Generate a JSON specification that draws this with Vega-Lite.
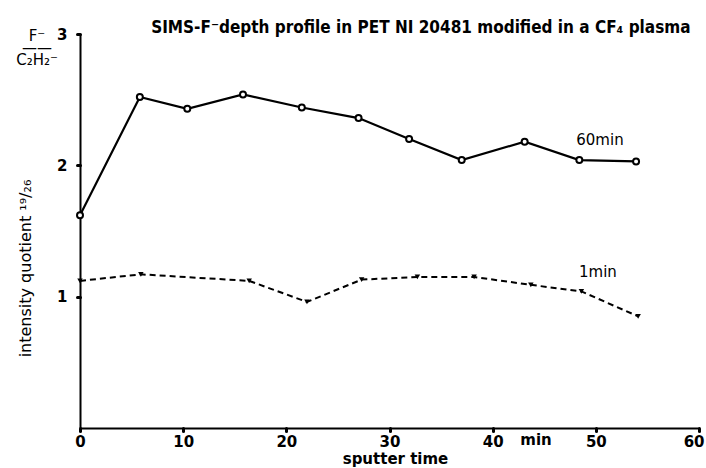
{
  "$schema": "https://vega.github.io/schema/vega-lite/v6.json",
  "autosize": "none",
  "width": 619,
  "height": 394,
  "padding": {"left": 80, "top": 34, "right": 7, "bottom": 40},
  "background": "white",
  "config": {
    "view": {"stroke": null},
    "font": "DejaVu Sans",
    "axis": {"grid": false, "domainColor": "black", "domainWidth": 2, "tickColor": "black", "tickWidth": 3, "tickSize": 3, "tickCap": "round", "labelColor": "black", "labelFont": "DejaVu Sans", "labelFontWeight": "bold", "labelFontSize": 15, "titleColor": "black"}
  },
  "title": {"text": "SIMS-F⁻depth profile in PET NI 20481 modified in a CF₄ plasma", "font": "DejaVu Sans Condensed", "fontSize": 17, "fontWeight": "bold", "color": "black", "anchor": "start", "offset": 0, "dx": 135, "dy": 27, "baseline": "bottom"},
  "datasets": {
    "series": [
      {"t": 0, "q": 1.62, "s": "60min"},
      {"t": 5.8, "q": 2.52, "s": "60min"},
      {"t": 10.4, "q": 2.43, "s": "60min"},
      {"t": 15.8, "q": 2.54, "s": "60min"},
      {"t": 21.5, "q": 2.44, "s": "60min"},
      {"t": 27.0, "q": 2.36, "s": "60min"},
      {"t": 31.9, "q": 2.2, "s": "60min"},
      {"t": 37.0, "q": 2.04, "s": "60min"},
      {"t": 43.1, "q": 2.18, "s": "60min"},
      {"t": 48.4, "q": 2.04, "s": "60min"},
      {"t": 53.9, "q": 2.03, "s": "60min"},
      {"t": 0, "q": 1.12, "s": "1min"},
      {"t": 5.9, "q": 1.17, "s": "1min"},
      {"t": 16.4, "q": 1.12, "s": "1min"},
      {"t": 22.0, "q": 0.96, "s": "1min"},
      {"t": 27.3, "q": 1.13, "s": "1min"},
      {"t": 32.7, "q": 1.15, "s": "1min"},
      {"t": 38.2, "q": 1.15, "s": "1min"},
      {"t": 43.7, "q": 1.09, "s": "1min"},
      {"t": 48.6, "q": 1.04, "s": "1min"},
      {"t": 54.1, "q": 0.85, "s": "1min"}
    ],
    "labels": [
      {"t": 50.4, "q": 2.19, "label": "60min"},
      {"t": 50.2, "q": 1.19, "label": "1min"}
    ],
    "unit": [{"t": 44.2, "q": 0, "label": "min"}],
    "frac": [{"t": 0, "q": 3, "label": "F⁻\n——\nC₂H₂⁻"}]
  },
  "encoding": {
    "x": {"field": "t", "type": "quantitative", "scale": {"domain": [0, 60], "nice": false, "zero": true},
      "axis": {"values": [0, 10, 20, 30, 40, 50, 60], "labelPadding": 3, "labelFlush": false, "labelAlign": {"expr": "datum.value == 60 ? 'right' : 'center'"}, "labelOffset": {"expr": "datum.value == 60 ? 5 : 0"}, "title": "sputter time", "titleFontSize": 15, "titleFontWeight": "bold", "titleX": 315, "titleY": 30, "titleBaseline": "middle"}},
    "y": {"field": "q", "type": "quantitative", "scale": {"domain": [0, 3], "nice": false},
      "axis": {"values": [1, 2, 3], "labelPadding": 10, "labelFlush": false, "title": "intensity quotient ¹⁹/₂₆", "titleFontSize": 16, "titleFontWeight": "normal", "titleX": -55, "titleY": 234, "titleAlign": "center", "titleBaseline": "middle"}}
  },
  "layer": [
    {
      "data": {"name": "series"},
      "transform": [{"filter": "datum.s == '60min'"}],
      "mark": {"type": "line", "color": "black", "strokeWidth": 2.2, "point": {"filled": true, "fill": "white", "stroke": "black", "strokeWidth": 2, "size": 36}}
    },
    {
      "data": {"name": "series"},
      "transform": [{"filter": "datum.s == '1min'"}],
      "mark": {"type": "line", "color": "black", "strokeWidth": 2, "strokeDash": [6, 4], "point": {"filled": true, "fill": "black", "shape": "triangle-down", "size": 30}}
    },
    {
      "data": {"name": "labels"},
      "mark": {"type": "text", "fontSize": 15, "color": "black", "font": "DejaVu Sans"},
      "encoding": {"text": {"field": "label"}}
    },
    {
      "data": {"name": "unit"},
      "mark": {"type": "text", "fontSize": 15, "color": "black", "fontWeight": "bold", "align": "center", "baseline": "top", "dy": 5},
      "encoding": {"text": {"field": "label"}}
    },
    {
      "data": {"name": "frac"},
      "mark": {"type": "text", "fontSize": 15, "color": "black", "align": "center", "baseline": "top", "dx": -43, "dy": -5, "lineHeight": 12, "lineBreak": "\n"},
      "encoding": {"text": {"field": "label"}}
    }
  ]
}
